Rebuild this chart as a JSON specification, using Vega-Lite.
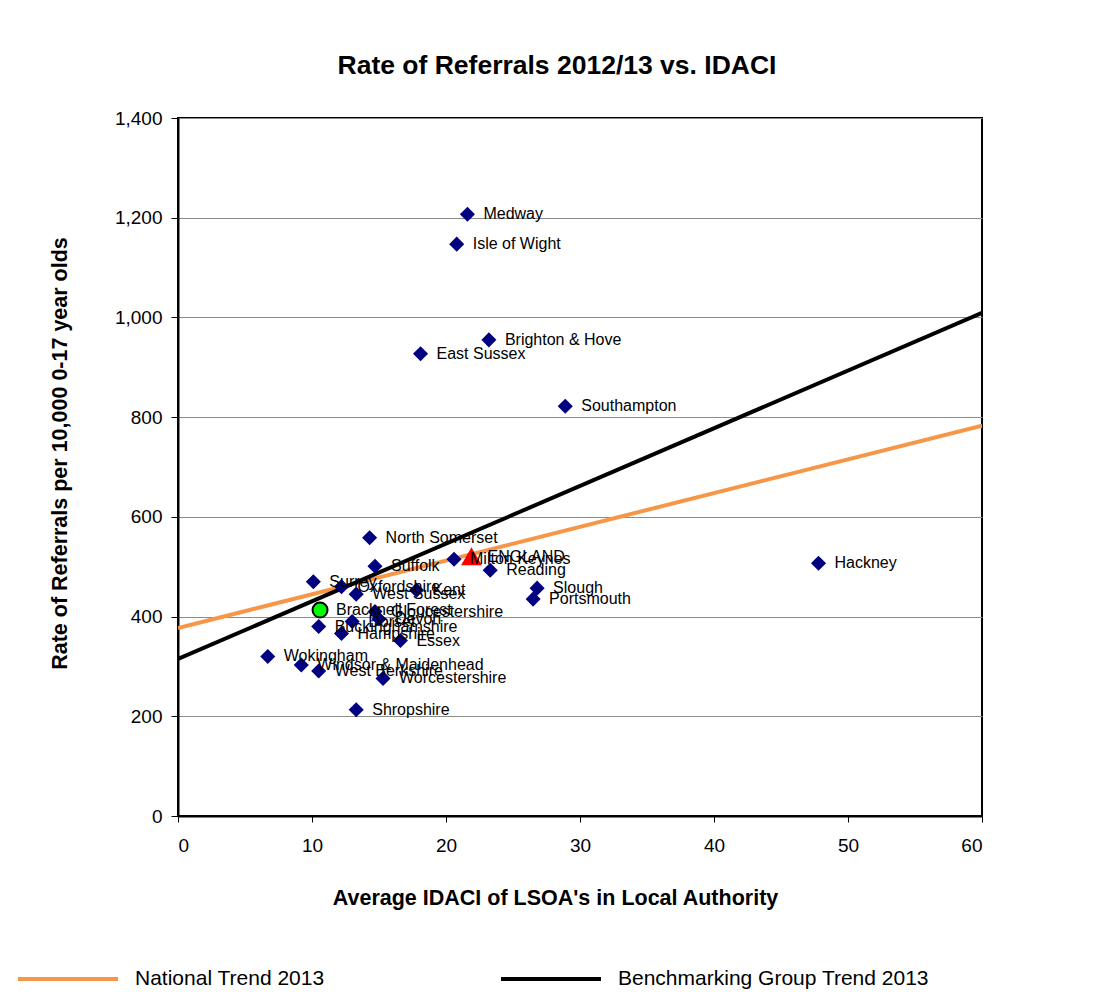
{
  "$schema": "https://vega.github.io/schema/vega-lite/v6.json",
  "width": 804,
  "height": 698,
  "autosize": "none",
  "padding": {"left": 178, "top": 118, "right": 124, "bottom": 176},
  "background": "white",
  "title": {
    "text": "Rate of Referrals 2012/13 vs. IDACI",
    "font": "Liberation Sans",
    "fontSize": 26.5,
    "fontWeight": "bold",
    "color": "black",
    "anchor": "middle",
    "dx": -23,
    "offset": 30
  },
  "config": {
    "font": "Liberation Sans",
    "view": {"stroke": "black", "strokeWidth": 2},
    "axis": {
      "labelFont": "Liberation Sans",
      "labelFontSize": 19,
      "labelColor": "black",
      "titleFont": "Liberation Sans",
      "titleFontSize": 21.5,
      "titleFontWeight": "bold",
      "titleColor": "black",
      "domainColor": "black",
      "domainWidth": 2,
      "tickColor": "black",
      "tickWidth": 1
    }
  },
  "datasets": {
    "points": [
      {"la": "Medway", "idaci": 21.6, "rate": 1207, "group": "LA"},
      {"la": "Isle of Wight", "idaci": 20.8, "rate": 1147, "group": "LA"},
      {"la": "Brighton & Hove", "idaci": 23.2, "rate": 955, "group": "LA"},
      {"la": "East Sussex", "idaci": 18.1, "rate": 927, "group": "LA"},
      {"la": "Southampton", "idaci": 28.9, "rate": 822, "group": "LA"},
      {"la": "North Somerset", "idaci": 14.3, "rate": 558, "group": "LA"},
      {"la": "Suffolk", "idaci": 14.7, "rate": 501, "group": "LA"},
      {"la": "Milton Keynes", "idaci": 20.6, "rate": 515, "group": "LA"},
      {"la": "Reading", "idaci": 23.3, "rate": 493, "group": "LA"},
      {"la": "Hackney", "idaci": 47.8, "rate": 507, "group": "LA"},
      {"la": "Slough", "idaci": 26.8, "rate": 457, "group": "LA"},
      {"la": "Portsmouth", "idaci": 26.5, "rate": 435, "group": "LA"},
      {"la": "Surrey", "idaci": 10.1, "rate": 470, "group": "LA"},
      {"la": "Oxfordshire", "idaci": 12.2, "rate": 460, "group": "LA"},
      {"la": "West Sussex", "idaci": 13.3, "rate": 445, "group": "LA"},
      {"la": "Kent", "idaci": 17.8, "rate": 453, "group": "LA"},
      {"la": "Gloucestershire", "idaci": 14.7, "rate": 410, "group": "LA"},
      {"la": "Devon", "idaci": 15.0, "rate": 395, "group": "LA"},
      {"la": "Dorset", "idaci": 13.0, "rate": 390, "group": "LA"},
      {"la": "Buckinghamshire", "idaci": 10.5, "rate": 380, "group": "LA"},
      {"la": "Hampshire", "idaci": 12.2, "rate": 366, "group": "LA"},
      {"la": "Essex", "idaci": 16.6, "rate": 352, "group": "LA"},
      {"la": "Wokingham", "idaci": 6.7, "rate": 320, "group": "LA"},
      {"la": "Windsor & Maidenhead", "idaci": 9.2, "rate": 303, "group": "LA"},
      {"la": "West Berkshire", "idaci": 10.5, "rate": 291, "group": "LA"},
      {"la": "Worcestershire", "idaci": 15.3, "rate": 276, "group": "LA"},
      {"la": "Shropshire", "idaci": 13.3, "rate": 213, "group": "LA"},
      {"la": "Bracknell Forest", "idaci": 10.6, "rate": 413, "group": "Bracknell"},
      {"la": "ENGLAND", "idaci": 21.9, "rate": 520, "group": "England"}
    ],
    "trends": [
      {"series": "National Trend 2013", "idaci": 0, "rate": 377},
      {"series": "National Trend 2013", "idaci": 60, "rate": 783},
      {"series": "Benchmarking Group Trend 2013", "idaci": 0, "rate": 315},
      {"series": "Benchmarking Group Trend 2013", "idaci": 60, "rate": 1009}
    ]
  },
  "layer": [
    {
      "data": {"name": "trends"},
      "mark": {"type": "line", "strokeWidth": 4, "clip": true},
      "encoding": {
        "x": {
          "field": "idaci", "type": "quantitative",
          "scale": {"domain": [0, 60], "nice": false, "zero": false},
          "axis": {
            "title": "Average IDACI of LSOA's in Local Authority",
            "values": [0, 10, 20, 30, 40, 50, 60],
            "grid": false,
            "tickSize": 6,
            "labelPadding": 14,
            "titleX": 377,
            "titleY": 82,
            "titleBaseline": "middle",
            "titleAnchor": "middle"
          }
        },
        "y": {
          "field": "rate", "type": "quantitative",
          "scale": {"domain": [0, 1400], "nice": false},
          "axis": {
            "title": "Rate of Referrals per 10,000 0-17 year olds",
            "values": [0, 200, 400, 600, 800, 1000, 1200, 1400],
            "format": ",d",
            "grid": true,
            "gridColor": "#8c8c8c",
            "gridWidth": 1,
            "tickSize": 7,
            "labelPadding": 9,
            "titleX": -118,
            "titleY": 335,
            "titleBaseline": "middle",
            "titleAnchor": "middle"
          }
        },
        "detail": {"field": "series", "type": "nominal"},
        "color": {
          "field": "series", "type": "nominal",
          "scale": {
            "domain": ["National Trend 2013", "Benchmarking Group Trend 2013"],
            "range": ["#F79646", "#000000"]
          },
          "legend": {
            "title": null,
            "orient": "none",
            "legendX": -162,
            "legendY": 809,
            "direction": "horizontal",
            "symbolType": "stroke",
            "symbolSize": 10000,
            "symbolStrokeWidth": 4,
            "labelFont": "Liberation Sans",
            "labelFontSize": 21,
            "labelColor": "black",
            "labelOffset": 15,
            "labelLimit": 600,
            "columnPadding": 168,
            "padding": 0
          }
        }
      }
    },
    {
      "data": {"name": "points"},
      "mark": {"type": "point", "filled": true, "strokeWidth": 2, "opacity": 1},
      "encoding": {
        "x": {"field": "idaci", "type": "quantitative"},
        "y": {"field": "rate", "type": "quantitative"},
        "shape": {
          "field": "group", "type": "nominal",
          "scale": {"domain": ["LA", "Bracknell", "England"], "range": ["diamond", "circle", "triangle-up"]},
          "legend": null
        },
        "fill": {
          "field": "group", "type": "nominal",
          "scale": {"domain": ["LA", "Bracknell", "England"], "range": ["#000080", "#00FF00", "#FF0000"]},
          "legend": null
        },
        "stroke": {
          "field": "group", "type": "nominal",
          "scale": {"domain": ["LA", "Bracknell", "England"], "range": ["#000080", "#000000", "#FF0000"]},
          "legend": null
        },
        "size": {
          "field": "group", "type": "nominal",
          "scale": {"domain": ["LA", "Bracknell", "England"], "range": [150, 300, 380]},
          "legend": null
        }
      }
    },
    {
      "data": {"name": "points"},
      "mark": {"type": "text", "align": "left", "baseline": "middle", "dx": 16, "font": "Liberation Sans", "fontSize": 16, "color": "black"},
      "encoding": {
        "x": {"field": "idaci", "type": "quantitative"},
        "y": {"field": "rate", "type": "quantitative"},
        "text": {"field": "la", "type": "nominal"}
      }
    }
  ]
}
